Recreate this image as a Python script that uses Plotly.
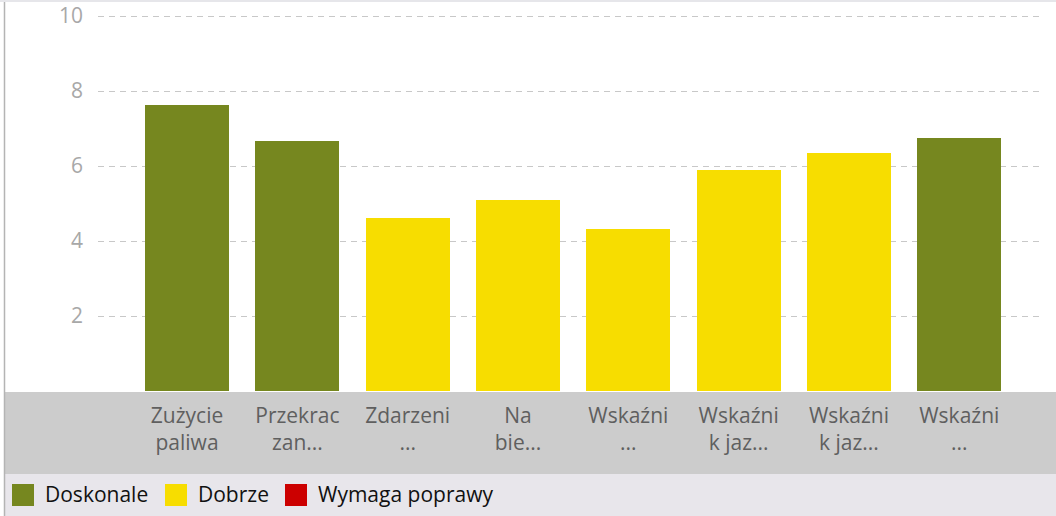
import plotly.graph_objects as go

categories = ["Zużycie<br>paliwa", "Przekrac<br>zan...", "Zdarzeni<br>...", "Na<br>bie...",
              "Wskaźni<br>...", "Wskaźni<br>k jaz...", "Wskaźni<br>k jaz...", "Wskaźni<br>..."]
values = [7.63, 6.67, 4.61, 5.09, 4.32, 5.89, 6.35, 6.75]
status = ["Doskonale", "Doskonale", "Dobrze", "Dobrze", "Dobrze", "Dobrze", "Dobrze", "Doskonale"]
legend_names = ["Doskonale", "Dobrze", "Wymaga poprawy"]
legend_colors = {"Doskonale": "#76871f", "Dobrze": "#f7dd00", "Wymaga poprawy": "#cc0000"}
y_ticks = [2, 4, 6, 8, 10]

W, H = 1056, 516
L, R, T, B = 98, 1042, 15, 391
FONT = "Open Sans"

def px(x):
    return (x - L) / (R - L)

def py(y):
    return (B - y) / (B - T)

xs = list(range(len(categories)))
fig = go.Figure()
fig.add_trace(go.Bar(
    x=xs, y=values, width=0.76,
    marker=dict(color=[legend_colors[s] for s in status], line=dict(width=0)),
    showlegend=False, hoverinfo="skip",
))

shapes = [
    dict(type="rect", xref="paper", yref="paper", x0=px(0), x1=px(W), y0=py(0), y1=py(2),
         fillcolor="#e6e6ea", line=dict(width=0), layer="below"),
    dict(type="rect", xref="paper", yref="paper", x0=px(5), x1=px(W), y0=py(392), y1=py(474),
         fillcolor="#cccccc", line=dict(width=0), layer="below"),
    dict(type="rect", xref="paper", yref="paper", x0=px(5), x1=px(W), y0=py(474), y1=py(H),
         fillcolor="#e8e6eb", line=dict(width=0), layer="below"),
    dict(type="line", xref="paper", yref="paper", x0=px(4.5), x1=px(4.5), y0=py(2), y1=py(H),
         line=dict(color="#b4b4b4", width=1.5), layer="below"),
]
annotations = []
lx = [12, 165, 285]
for name, x0 in zip(legend_names, lx):
    shapes.append(dict(type="rect", xref="paper", yref="paper",
                       x0=px(x0), x1=px(x0 + 22), y0=py(506), y1=py(484),
                       fillcolor=legend_colors[name], line=dict(width=0)))
    annotations.append(dict(xref="paper", yref="paper", x=px(x0 + 31), y=py(494),
                            text=name, showarrow=False, xanchor="left", yanchor="middle",
                            font=dict(family=FONT, size=21, color="#111111")))

fig.update_layout(
    width=W, height=H,
    margin=dict(l=L, r=W - R, t=T, b=H - B, pad=0, autoexpand=False),
    paper_bgcolor="white", plot_bgcolor="white",
    bargap=0,
    shapes=shapes, annotations=annotations,
    xaxis=dict(range=[-0.807, 7.75], tickvals=xs, ticktext=categories,
               showgrid=False, zeroline=False, showline=False, ticks="",
               tickfont=dict(family=FONT, size=21, color="#5f5f5f"),
               ticklabelstandoff=10, fixedrange=True, automargin=False),
    yaxis=dict(range=[0, 10.03], tickvals=y_ticks, ticktext=[str(v) for v in y_ticks],
               showgrid=True, gridcolor="#c8c8c8", griddash="6px,5px", gridwidth=1,
               zeroline=False, showline=False, ticks="",
               tickfont=dict(family=FONT, size=21, color="#a8a8a8"),
               ticklabelstandoff=14, fixedrange=True, automargin=False),
    showlegend=False,
)

fig.write_html("out.html", config={"displayModeBar": False},
               post_script="document.body.style.margin='0';")
